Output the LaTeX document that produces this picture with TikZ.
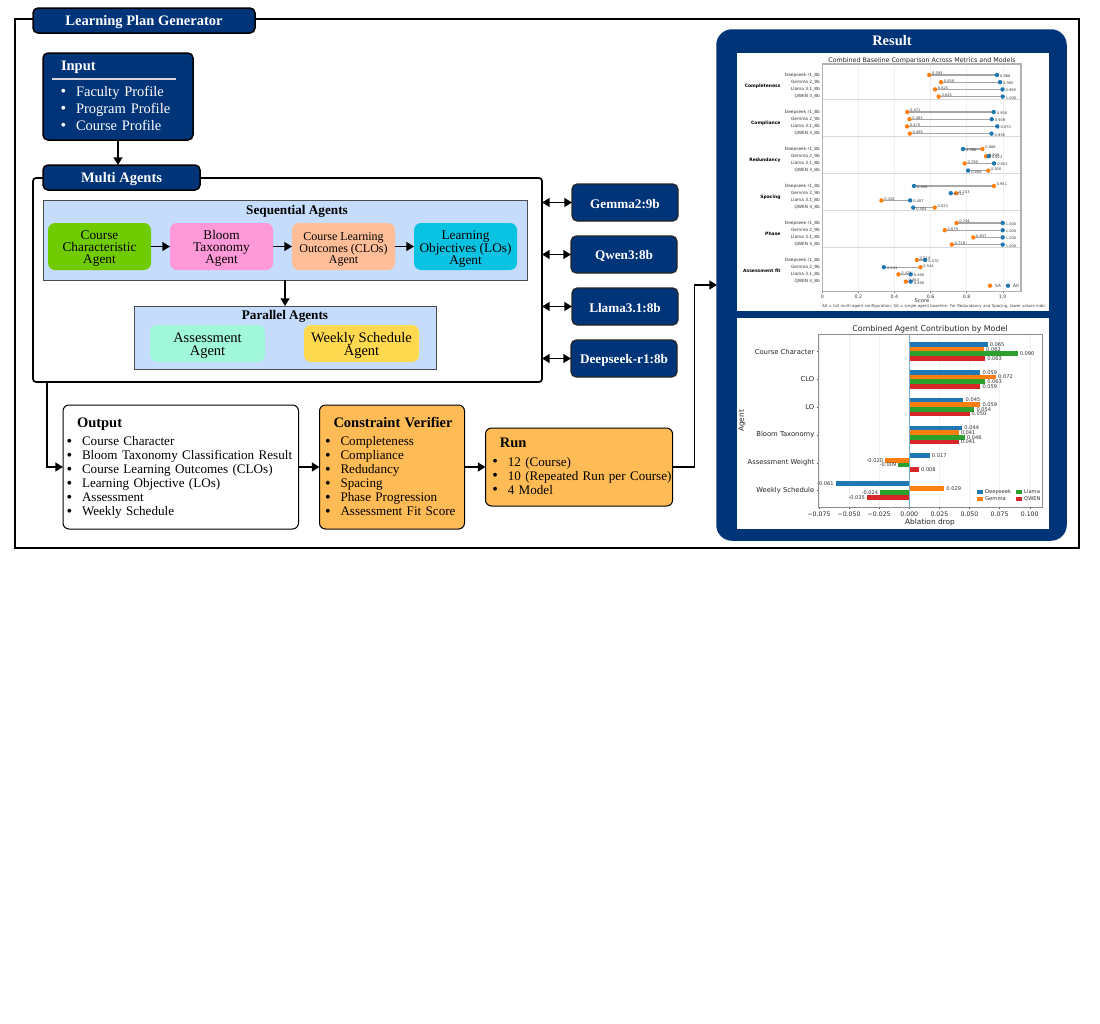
\documentclass[tikz,border=0pt]{standalone}
\usepackage{fontspec}
\setmainfont{Liberation Serif}
\newfontfamily\plotfont{DejaVu Sans}
\usetikzlibrary{positioning, arrows.meta, calc}
\definecolor{navy}{HTML}{003478}
\definecolor{panelblue}{HTML}{C5DCFC}
\definecolor{agentgreen}{HTML}{70CC00}
\definecolor{agentpink}{HTML}{FF99D8}
\definecolor{agentpeach}{HTML}{FFBE98}
\definecolor{agentcyan}{HTML}{0AC3E3}
\definecolor{agentmint}{HTML}{A0F7DA}
\definecolor{agentyellow}{HTML}{FFD94F}
\definecolor{boxorange}{HTML}{FFBB55}
\definecolor{mplblue}{HTML}{1F77B4}
\definecolor{mplorange}{HTML}{FF7F0E}
\definecolor{mplgreen}{HTML}{2CA02C}
\definecolor{mplred}{HTML}{D62728}
\newcommand{\pxfont}[2]{\fontsize{#1}{#2}\selectfont}
\newcommand{\itm}[1]{\strut\makebox[15.5pt][l]{\raisebox{-0.4pt}{\pxfont{16}{14}\textbullet}}\mbox{#1}}
\newcommand{\hdr}[2]{\rule{0pt}{13.8pt}\hspace*{#1}{\pxfont{14.5}{14}\bfseries #2}}
\newcommand{\lift}{\rule{0pt}{13.5pt}}
\tikzset{
  navybox/.style={draw=black, line width=1.5pt, rounded corners=5pt, fill=navy, text=white, font=\pxfont{14.5}{17}\bfseries, inner sep=0pt, outer sep=0pt, align=center, execute at begin node=\rule{0pt}{12.5pt}},
  modelbox/.style={navybox, draw=black!85, line width=1.1pt, minimum width=106pt, minimum height=37pt, font=\pxfont{13.2}{15}\bfseries},
  agentbox/.style={rounded corners=7pt, minimum width=103pt, minimum height=47pt, inner sep=0pt, outer sep=0pt, align=center, font=\pxfont{13.3}{12}},
  agentboxwide/.style={agentbox, minimum width=115pt, minimum height=37pt, font=\pxfont{14.5}{13}},
  panel/.style={draw=black!70, line width=0.8pt, fill=panelblue, inner sep=0pt, outer sep=0pt},
  paneltitle/.style={font=\pxfont{13.2}{15}\bfseries, inner sep=0pt},
  listbox/.style={draw=black, line width=1pt, rounded corners=6pt, inner ysep=0pt, outer sep=0pt, align=left, minimum height=124pt, font=\pxfont{13.1}{14}},
  flow/.style={-{Triangle[scale=1]}, line width=1.7pt},
  flowboth/.style={{Triangle[scale=1]}-{Triangle[scale=1]}, line width=1.7pt},
  plotlabel/.style={font=\plotfont\pxfont{4.3}{5}, text=black!80, inner sep=0pt},
  plotvalue/.style={font=\plotfont\pxfont{3.6}{4}, text=black!75, inner sep=0pt},
  barvalue/.style={font=\plotfont\pxfont{5.1}{6}, text=black!80, inner sep=0pt},
  chartlabel/.style={font=\plotfont\pxfont{6.2}{7}, text=black!85, inner sep=0pt},
  axislabel/.style={font=\plotfont\pxfont{7.4}{8}, text=black!85, inner sep=0pt},
  chartbg/.style={fill=white, inner sep=0pt, outer sep=0pt, minimum width=312pt},
}
\begin{document}
\begin{tikzpicture}[x=1pt, y=-1pt]
\useasboundingbox (0,0) rectangle (1100,1023);

\node[draw=black, line width=1.7pt, minimum width=1064pt, minimum height=529pt, inner sep=0pt, outer sep=0pt] (generator) at (547,283.5) {};
\node[navybox, minimum width=222pt, minimum height=25pt] (generatortitle) at (144,20.5) {Learning Plan Generator};

\node[navybox, anchor=north west, inner xsep=17.5pt, text width=115pt, minimum height=87pt, align=left, font=\pxfont{14.5}{17}, execute at begin node={}] (input) at (43,53) {\strut\hspace*{0.5pt}{\bfseries Input}\\[9pt]\itm{Faculty Profile}\\\itm{Program Profile}\\\itm{Course Profile}};
\draw[black!15, line width=1.2pt] ($(input.north west)+(9,26)$) -- ($(input.north west)+(133,26)$);

\node[draw=black, line width=1.7pt, rounded corners=3pt, minimum width=509pt, minimum height=204pt, inner sep=0pt, outer sep=0pt] (agents) at (287.5,280) {};
\node[navybox, minimum width=157pt, minimum height=25pt] (agentstitle) at (121.5,177.5) {Multi Agents};

\node[panel, minimum width=484pt, minimum height=80pt] (sequential) at (285,240) {};
\node[paneltitle] (sequentialtitle) at (297,211.5) {Sequential Agents};
\node[agentbox, fill=agentgreen] (course) at (99.5,246.5) {\lift Course\\Characteristic\\Agent};
\node[agentbox, fill=agentpink, right=19pt of course] (bloom) {\lift Bloom\\Taxonomy\\Agent};
\node[agentbox, fill=agentpeach, right=19pt of bloom, font=\pxfont{12}{10.5}] (clo) {\lift Course Learning\\Outcomes (CLOs)\\Agent};
\node[agentbox, fill=agentcyan, right=19pt of clo] (lo) {\lift Learning\\Objectives (LOs)\\Agent};

\node[panel, minimum width=302pt, minimum height=63pt] (parallel) at (285,337.5) {};
\node[paneltitle] (paralleltitle) at (285,316) {Parallel Agents};
\node[agentboxwide, fill=agentmint] (assessment) at (207.5,343.5) {\lift Assessment\\Agent};
\node[agentboxwide, fill=agentyellow, right=39pt of assessment] (weekly) {\lift Weekly Schedule\\Agent};

\node[modelbox] (gemma) at (625,202.5) {Gemma2:9b};
\node[modelbox, below=15pt of gemma, xshift=-1pt] (qwen) {Qwen3:8b};
\node[modelbox, below=15pt of qwen, xshift=1pt] (llama) {Llama3.1:8b};
\node[modelbox, below=15pt of llama, xshift=-1pt] (deepseek) {Deepseek-r1:8b};

\node[listbox, anchor=north west, fill=white, inner xsep=3.5pt, text width=228.5pt] (output) at (63,405) {\hdr{10.5pt}{Output}\\[4pt]\itm{Course Character}\\\itm{Bloom Taxonomy Classification Result}\\\itm{Course Learning Outcomes (CLOs)}\\\itm{Learning Objective (LOs)}\\\itm{Assessment}\\\itm{Weekly Schedule}};
\node[listbox, fill=boxorange, right=21pt of output, inner xsep=5.5pt, text width=134pt] (verifier) {\hdr{8.5pt}{Constraint Verifier}\\[4pt]\itm{Completeness}\\\itm{Compliance}\\\itm{Redudancy}\\\itm{Spacing}\\\itm{Phase Progression}\\\itm{Assessment Fit Score}};
\node[listbox, fill=boxorange, right=21pt of verifier, inner xsep=6.8pt, text width=173.5pt, minimum height=78pt] (run) {\hdr{7.5pt}{Run}\\[5pt]\itm{12 (Course)}\\\itm{10 (Repeated Run per Course)}\\\itm{4 Model}\rule[-6.5pt]{0pt}{6.5pt}};

\node[navybox, draw=navy, rounded corners=15pt, minimum width=349pt, minimum height=510pt] (result) at (891.5,285) {};
\node[font=\pxfont{14.5}{17}\bfseries, text=white, inner sep=0pt] (resulttitle) at (892,40.5) {Result};
\node[chartbg, minimum height=258pt] (chartone) at (893,182) {};
\node[chartbg, minimum height=211pt] (charttwo) at (893,423.5) {};

\coordinate (outputdrop) at (47,382);
\draw[flow] (input.south) -- (input.south |- agentstitle.north);
\draw[flow] (course) -- (bloom);
\draw[flow] (bloom) -- (clo);
\draw[flow] (clo) -- (lo);
\draw[flow] (sequential.south) -- (parallel.north);
\draw[flowboth] (agents.east |- gemma) -- (gemma.west);
\draw[flowboth] (agents.east |- qwen) -- (qwen.west);
\draw[flowboth] (agents.east |- llama) -- (llama.west);
\draw[flowboth] (agents.east |- deepseek) -- (deepseek.west);
\draw[flow] (outputdrop) |- (output.west);
\draw[flow] (output) -- (verifier);
\draw[flow] (verifier) -- (run);
\draw[flow] (run.east) -- ++(22,0) |- (result.west);

\node[font=\plotfont\pxfont{6.35}{7}, text=black!85, inner sep=0pt] (onetitle) at (922,61) {Combined Baseline Comparison Across Metrics and Models};
\foreach \t in {0,0.2,0.4,0.6,0.8,1.0} {
  \pgfmathsetmacro{\tx}{822.3+180.4*\t}
  \draw[black!6, line width=0.4pt] (\tx,64) -- (\tx,291.7);
  \draw[black!60, line width=0.4pt] (\tx,291.7) -- (\tx,293.2);
  \node[plotlabel, font=\plotfont\pxfont{4.7}{5}] (onetick\t) at (\tx,296.5) {\t};
}
\foreach \g in {1,...,5} {
  \pgfmathsetmacro{\sy}{62.5+37*\g}
  \draw[black!15, line width=0.7pt] (822.3,\sy) -- (1021,\sy);
}
\foreach \lab [count=\g from 0] in {Completeness,Compliance,Redundancy,Spacing,Phase,Assessment fit} {
  \pgfmathsetmacro{\gy}{85.8+37*\g}
  \node[plotlabel, anchor=east, text=black, font=\plotfont\pxfont{4.5}{5}\bfseries] (group\g) at (780.7,\gy) {\lab};
}
\foreach \g/\r/\a/\s in {
  0/0/0.968/0.593, 0/1/0.985/0.658, 0/2/0.999/0.625, 0/3/1.000/0.645,
  1/0/0.950/0.471, 1/1/0.939/0.483, 1/2/0.970/0.470, 1/3/0.938/0.485,
  2/0/0.780/0.888, 2/1/0.923/0.908, 2/2/0.952/0.789, 2/3/0.808/0.920,
  3/0/0.508/0.951, 3/1/0.712/0.743, 3/2/0.487/0.328, 3/3/0.504/0.623,
  4/0/1.000/0.744, 4/1/1.000/0.679, 4/2/1.000/0.837, 4/3/1.000/0.718,
  5/0/0.570/0.524, 5/1/0.341/0.544, 5/2/0.490/0.422, 5/3/0.490/0.463} {
  \pgfmathsetmacro{\ry}{75+37*\g+7.2*\r}
  \pgfmathsetmacro{\ax}{822.3+180.4*\a}
  \pgfmathsetmacro{\sx}{822.3+180.4*\s}
  \draw[black!35, line width=1.1pt] (\ax,\ry) -- (\sx,\ry);
  \fill[mplorange] (\sx,\ry) circle (2.2);
  \fill[mplblue] (\ax,\ry) circle (2.2);
  \node[plotvalue, anchor=west] (sa\g\r) at (\sx+2.7,\ry-1.5) {\s};
  \node[plotvalue, anchor=west] (ao\g\r) at (\ax+3,\ry+1.2) {\a};
}
\foreach \lab [count=\r from 0] in {Deepseek r1\_8b,Gemma 2\_9b,Llama 3.1\_8b,QWEN 3\_8b} {
  \foreach \g in {0,...,5} {
    \pgfmathsetmacro{\ry}{75+37*\g+7.2*\r}
    \node[plotlabel, anchor=east] (row\g\r) at (820,\ry) {\lab};
  }
}
\draw[black!30, line width=1.1pt] (822.3,64) rectangle (1021,291.7);
\fill[mplorange] (990,285.7) circle (2.2);
\node[plotlabel, anchor=west] (legendsa) at (995,285.5) {SA};
\fill[mplblue] (1008,285.7) circle (2.2);
\node[plotlabel, anchor=west] (legendao) at (1013,285.5) {A0};
\node[plotlabel, font=\plotfont\pxfont{5.2}{6}] (onexlabel) at (922,301) {Score};
\node[plotvalue, anchor=west, font=\plotfont\pxfont{3.95}{4}] (onecaption) at (822,306.8) {A0 = full multi-agent configuration; SA = single-agent baseline. For Redundancy and Spacing, lower values indic};

\node[font=\plotfont\pxfont{7.85}{8}, text=black!85, inner sep=0pt] (twotitle) at (930,329) {Combined Agent Contribution by Model};
\foreach \t/\tl in {-0.075/\textminus0.075,-0.050/\textminus0.050,-0.025/\textminus0.025,0.000/0.000,0.025/0.025,0.050/0.050,0.075/0.075,0.100/0.100} {
  \pgfmathsetmacro{\tx}{909.3+1204*\t}
  \draw[black!6, line width=0.4pt] (\tx,334) -- (\tx,507);
  \draw[black!70, line width=0.4pt] (\tx,507) -- (\tx,509);
  \node[chartlabel] (twotick\t) at (\tx,514) {\tl};
}
\foreach \lab/\va/\vb/\vc/\vd [count=\g from 0] in {
  Course Character/0.065/0.062/0.090/0.063,
  CLO/0.059/0.072/0.063/0.059,
  LO/0.045/0.059/0.054/0.050,
  Bloom Taxonomy/0.044/0.041/0.046/0.041,
  Assessment Weight/0.017/-0.020/-0.009/0.008,
  Weekly Schedule/-0.061/0.029/-0.024/-0.035} {
  \pgfmathsetmacro{\gy}{351.5+27.8*\g}
  \draw[black!70, line width=0.4pt] (816.5,\gy) -- (818,\gy);
  \node[chartlabel, anchor=east, font=\plotfont\pxfont{6.8}{7}] (agentlab\g) at (814.5,\gy) {\lab};
  \foreach \v/\col/\off [count=\b] in {\va/mplblue/-7,\vb/mplorange/-2.3,\vc/mplgreen/2.3,\vd/mplred/7} {
    \pgfmathsetmacro{\bx}{909.3+1204*\v}
    \pgfmathsetmacro{\by}{\gy+\off}
    \fill[\col] (909.3,\by-2.35) rectangle (\bx,\by+2.35);
    \ifdim\v pt<0pt
      \node[barvalue, anchor=east] (bar\g\b) at (\bx-2,\by) {\v};
    \else
      \node[barvalue, anchor=west] (bar\g\b) at (\bx+2,\by) {\v};
    \fi
  }
}
\draw[mplblue!60, line width=0.7pt] (909.3,334) -- (909.3,507);
\draw[black!45, line width=1pt] (818,334) rectangle (1042,507);
\node[axislabel, rotate=90] (twoylabel) at (742,421) {Agent};
\node[axislabel] (twoxlabel) at (930,522.5) {Ablation drop};
\foreach \lab/\col/\lx/\ly in {Deepseek/mplblue/977/492,Gemma/mplorange/977/499,Llama/mplgreen/1016/492,QWEN/mplred/1016/499} {
  \fill[\col] (\lx,\ly-1.6) rectangle (\lx+5.5,\ly+1.6);
  \node[plotlabel, anchor=west, font=\plotfont\pxfont{5.2}{6}] (legend\lab) at (\lx+8,\ly) {\lab};
}
\end{tikzpicture}
\end{document}
